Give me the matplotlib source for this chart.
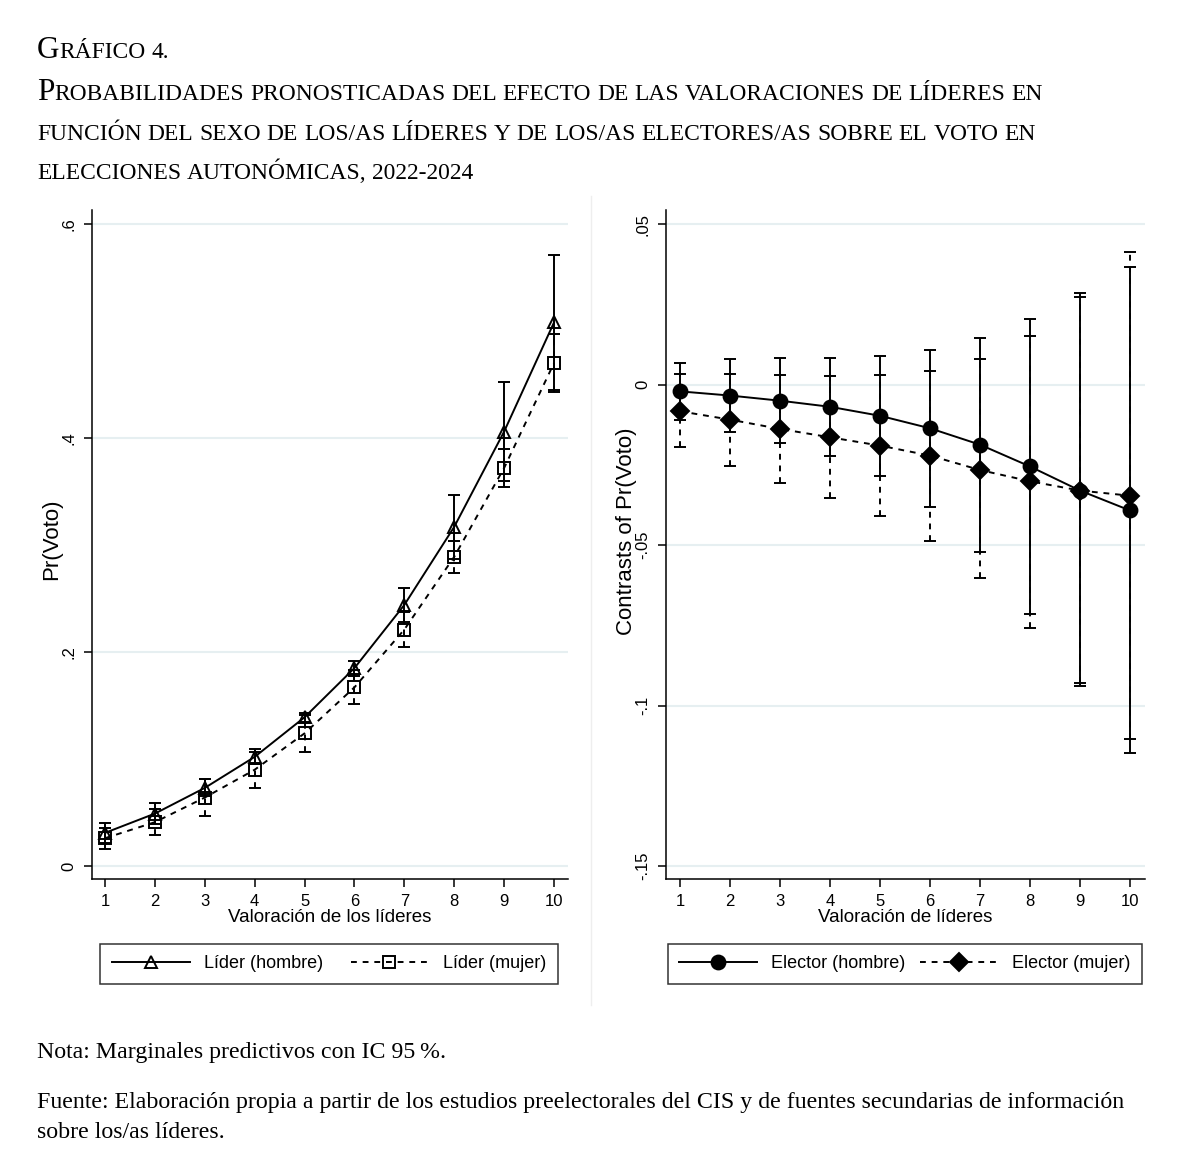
import numpy as np
import matplotlib.pyplot as plt
from matplotlib.lines import Line2D

plt.rcParams['font.family'] = ['Liberation Sans', 'DejaVu Sans']

# valoracion de lideres (1-10)
valoracion = np.arange(1, 11)

# panel izquierdo: Pr(Voto) segun sexo del lider
lider_h = [0.031, 0.049, 0.073, 0.102, 0.139, 0.185, 0.244, 0.317, 0.406, 0.508]
lider_h_lo = [0.022, 0.039, 0.065, 0.095, 0.135, 0.178, 0.228, 0.287, 0.360, 0.445]
lider_h_hi = [0.040, 0.059, 0.081, 0.109, 0.143, 0.192, 0.260, 0.347, 0.452, 0.571]
lider_m = [0.026, 0.041, 0.064, 0.090, 0.124, 0.167, 0.221, 0.289, 0.372, 0.470]
lider_m_lo = [0.016, 0.029, 0.047, 0.073, 0.107, 0.151, 0.205, 0.274, 0.354, 0.443]
lider_m_hi = [0.036, 0.053, 0.081, 0.107, 0.141, 0.183, 0.237, 0.304, 0.390, 0.497]

# panel derecho: contrastes segun sexo del elector
elector_h = [-0.0021, -0.0034, -0.0050, -0.0069, -0.0097, -0.0136, -0.0187, -0.0255, -0.0330, -0.0392]
elector_h_lo = [-0.0110, -0.0148, -0.0182, -0.0222, -0.0284, -0.0381, -0.0522, -0.0714, -0.0938, -0.1147]
elector_h_hi = [0.0068, 0.0080, 0.0082, 0.0084, 0.0090, 0.0109, 0.0146, 0.0204, 0.0285, 0.0366]
elector_m = [-0.0083, -0.0109, -0.0138, -0.0164, -0.0190, -0.0221, -0.0266, -0.0301, -0.0330, -0.0346]
elector_m_lo = [-0.0195, -0.0254, -0.0307, -0.0354, -0.0408, -0.0486, -0.0602, -0.0759, -0.0930, -0.1105]
elector_m_hi = [0.0033, 0.0033, 0.0031, 0.0028, 0.0030, 0.0044, 0.0080, 0.0153, 0.0272, 0.0412]

left_yticks = [0, 0.2, 0.4, 0.6]
left_ylabels = ['0', '.2', '.4', '.6']
right_yticks = [0.05, 0, -0.05, -0.1, -0.15]
right_ylabels = ['.05', '0', '-.05', '-.1', '-.15']

W, H = 1188, 1171
fig = plt.figure(figsize=(W / 100, H / 100), dpi=100)
fig.patch.set_facecolor('white')

grid_col = '#e6eff1'


def px_axes(x0, y0, x1, y1):
    return fig.add_axes([x0 / W, 1 - y1 / H, (x1 - x0) / W, (y1 - y0) / H])


def errs(y, lo, hi):
    y, lo, hi = np.array(y), np.array(lo), np.array(hi)
    return [y - lo, hi - y]


def draw_series(ax, y, lo, hi, marker, mfc, ms, dashed, label):
    ls = (0, (3, 3)) if dashed else '-'
    eb = ax.errorbar(valoracion, y, yerr=errs(y, lo, hi), fmt='none', ecolor='black',
                     elinewidth=1.4, capsize=4, capthick=1.4, zorder=2)
    if dashed:
        eb[2][0].set_linestyle(ls)
    ax.plot(valoracion, y, color='black', lw=1.4, linestyle=ls, marker=marker, ms=ms,
            mfc=mfc, mec='black', mew=1.4, label=label, zorder=3)


def style_axes(ax, yticks, ylabels, xlim, ylim, xlabel, ylabel, ylab_coords):
    ax.set_xlim(*xlim)
    ax.set_ylim(*ylim)
    ax.set_xticks(valoracion)
    ax.set_yticks(yticks)
    ax.set_yticklabels(ylabels, rotation=90, va='center')
    for s in ['top', 'right']:
        ax.spines[s].set_visible(False)
    for s in ['left', 'bottom']:
        ax.spines[s].set_linewidth(1.1)
    ax.tick_params(length=6, width=1.1, labelsize=12, pad=5)
    ax.grid(axis='y', color=grid_col, lw=1.5, zorder=0)
    ax.set_axisbelow(True)
    ax.set_xlabel(xlabel, fontsize=13.5)
    ax.xaxis.set_label_coords(0.5, -0.045)
    ax.set_ylabel(ylabel, fontsize=16)
    ax.yaxis.set_label_coords(*ylab_coords)


def legend_box(ax, xc, colsp):
    leg = ax.legend(loc='center', bbox_to_anchor=(xc, -0.127), ncol=2, frameon=True,
                    fancybox=False, edgecolor='black', fontsize=13, handlelength=4.3,
                    numpoints=1, borderaxespad=0, borderpad=0.65, handletextpad=0.8,
                    columnspacing=colsp)
    leg.get_frame().set_linewidth(1.1)


# panel izquierdo
ax1 = px_axes(92, 210, 568, 879)
draw_series(ax1, lider_h, lider_h_lo, lider_h_hi, '^', 'none', 9, False, 'Líder (hombre)')
draw_series(ax1, lider_m, lider_m_lo, lider_m_hi, 's', 'none', 8, True, 'Líder (mujer)')
style_axes(ax1, left_yticks, left_ylabels, (0.74, 10.28), (-0.0121, 0.613),
           'Valoración de los líderes', 'Pr(Voto)', (-0.062, 0.508))
legend_box(ax1, 0.498, 1.5)

# panel derecho
ax2 = px_axes(666, 210, 1145, 879)
draw_series(ax2, elector_h, elector_h_lo, elector_h_hi, 'o', 'black', 10, False, 'Elector (hombre)')
draw_series(ax2, elector_m, elector_m_lo, elector_m_hi, 'D', 'black', 9, True, 'Elector (mujer)')
style_axes(ax2, right_yticks, right_ylabels, (0.72, 10.3), (-0.154, 0.0544),
           'Valoración de líderes', 'Contrasts of Pr(Voto)', (-0.06, 0.52))
legend_box(ax2, 0.499, 0.8)

# separador entre paneles
fig.add_artist(Line2D([591 / W, 591 / W], [1 - 196 / H, 1 - 1005 / H], color='#eeeeee', lw=1))

# titulo en versalitas
renderer = fig.canvas.get_renderer()
serif = ['Liberation Serif', 'DejaVu Serif']


def small_caps(x, y, s, big, small):
    sp = fig.text(0, 0, 'a a', fontsize=small, family=serif)
    nsp = fig.text(0, 0, 'aa', fontsize=small, family=serif)
    space = sp.get_window_extent(renderer).width - nsp.get_window_extent(renderer).width
    sp.remove()
    nsp.remove()
    for word in s.split(' '):
        runs = []
        for ch in word:
            size = big if ch.isupper() else small
            if runs and runs[-1][1] == size:
                runs[-1][0] += ch.upper()
            else:
                runs.append([ch.upper(), size])
        for txt, size in runs:
            t = fig.text(x / W, 1 - y / H, txt, fontsize=size, family=serif, va='baseline')
            x = t.get_window_extent(renderer).x1
        x += space


big_sz, small_sz = 22.5, 16.9
small_caps(37, 58, 'Gráfico 4.', big_sz, small_sz)
small_caps(37, 100, 'Probabilidades pronosticadas del efecto de las valoraciones de líderes en',
           big_sz, small_sz)
small_caps(37, 140, 'función del sexo de los/as líderes y de los/as electores/as sobre el voto en',
           big_sz, small_sz)
small_caps(37, 179, 'elecciones autonómicas, 2022-2024', big_sz, small_sz)

# notas
note_sz = 17.2
fig.text(37 / W, 1 - 1058 / H, 'Nota: Marginales predictivos con IC 95\u2009%.', fontsize=note_sz,
         family=serif, va='baseline')
fig.text(37 / W, 1 - 1108 / H,
         'Fuente: Elaboración propia a partir de los estudios preelectorales del CIS y de fuentes secundarias de información',
         fontsize=note_sz, family=serif, va='baseline')
fig.text(37 / W, 1 - 1138 / H, 'sobre los/as líderes.', fontsize=note_sz, family=serif, va='baseline')

fig.savefig('out.png', dpi=100, facecolor='white')
